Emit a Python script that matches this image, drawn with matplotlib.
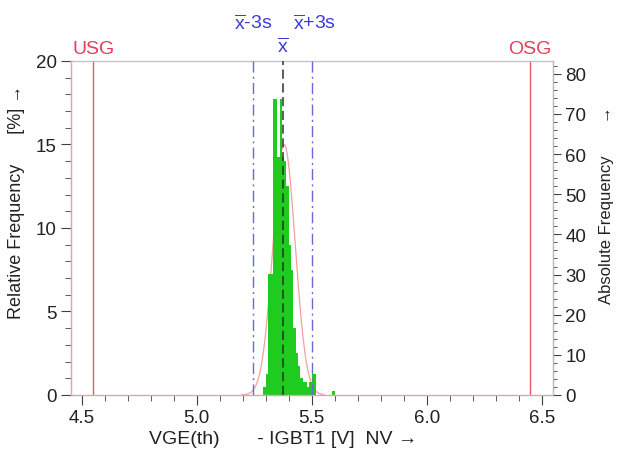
import matplotlib
matplotlib.use("Agg")
import matplotlib.pyplot as plt
import numpy as np
from matplotlib.ticker import MultipleLocator

plt.rcParams['font.family'] = ['Liberation Sans', 'DejaVu Sans']
plt.rcParams['mathtext.fontset'] = 'custom'
plt.rcParams['mathtext.rm'] = 'Liberation Sans'
plt.rcParams['mathtext.it'] = 'Liberation Sans'

# ---- data ----
bin_left = [5.29, 5.30, 5.31, 5.32, 5.33, 5.34, 5.35, 5.36, 5.37, 5.38, 5.39,
            5.40, 5.41, 5.42, 5.43, 5.44, 5.45, 5.46, 5.47, 5.48, 5.49, 5.50,
            5.51, 5.59]
rel_freq = [0.5, 1.25, 7.25, 7.25, 17.75, 17.75, 14.25, 17.75, 14.25, 14.0, 12.5,
            9.0, 7.5, 4.0, 2.5, 1.75, 1.0, 0.75, 0.75, 0.5, 0.75, 1.25,
            1.25, 0.25]
bin_width = 0.01
usg, osg = 4.55, 6.45
mean_x = 5.375
lower_3s = 5.246
upper_3s = 5.503
fit_mu, fit_sigma, fit_peak = 5.38, 0.048, 15.0
x_ticks = [4.5, 5.0, 5.5, 6.0, 6.5]
x_ticklabels = ['4.5', '5.0', '5.5', '6.0', '6.5']

fig = plt.figure(figsize=(6.17, 4.64), dpi=100)
ax = fig.add_axes([0.1146, 0.1466, 0.7812, 0.7198])
ax.set_xlim(4.452, 6.548)
ax.set_ylim(0, 20)

ax.bar(bin_left, rel_freq, width=bin_width, align='edge', color='#1ecb1e',
       edgecolor='none', zorder=2)

# fitted normal curve
xc = np.linspace(lower_3s - 0.05, upper_3s + 0.05, 300)
yc = fit_peak * np.exp(-0.5 * ((xc - fit_mu) / fit_sigma) ** 2)
ax.plot(xc, yc, color='#f4a0a0', lw=0.9, zorder=1.5)

# limits
for v in (usg, osg):
    ax.axvline(v, color='#e35a66', lw=1.0, zorder=1)
ax.axvline(mean_x, color='#1c3a1c', lw=1.1, ls=(0, (6, 3)), zorder=4)
for v in (lower_3s, upper_3s):
    ax.axvline(v, color='#6a6ad6', lw=1.0, ls=(0, (8, 3, 1.5, 3)), zorder=4)

tcol = '#404040'
ax.set_xticks(x_ticks)
ax.set_xticklabels(x_ticklabels)
ax.xaxis.set_minor_locator(MultipleLocator(0.1))
ax.yaxis.set_major_locator(MultipleLocator(5))
ax.yaxis.set_minor_locator(MultipleLocator(1))
ax.tick_params(axis='both', which='major', labelsize=13.5, length=7, color=tcol,
               labelcolor='#222222', pad=3)
ax.tick_params(axis='both', which='minor', length=4, color=tcol)

for s in ('left', 'bottom'):
    ax.spines[s].set_color('#dca4ac')
ax.spines['top'].set_color('#c4c4c4')
ax.spines['right'].set_color('#bbbbbb')
for s in ax.spines.values():
    s.set_linewidth(1.0)

ax2 = ax.twinx()
ax2.set_ylim(0, 83.2)
ax2.yaxis.set_major_locator(MultipleLocator(10))
ax2.yaxis.set_minor_locator(MultipleLocator(2))
ax2.tick_params(axis='y', which='major', labelsize=13.5, length=6, color=tcol,
                labelcolor='#222222', pad=3)
ax2.tick_params(axis='y', which='minor', length=3, color=tcol)
for s in ax2.spines.values():
    s.set_visible(False)
ax2.spines['right'].set_visible(True)
ax2.spines['right'].set_color('#bbbbbb')

ax.set_ylabel('Relative Frequency      [%] \u2192', fontsize=13, color='#222222')
ax.yaxis.set_label_coords(-0.094, 0.58)
ax2.set_ylabel('Absolute Frequency       \u2192', fontsize=12, color='#222222')
ax2.yaxis.set_label_coords(1.097, 0.57)
ax.set_xlabel('VGE(th)       - IGBT1 [V]  NV \u2192', fontsize=14, color='#222222')
ax.xaxis.set_label_coords(0.44, -0.105)

# labels above plot
ax.text(usg, 1.012, 'USG', transform=ax.get_xaxis_transform(), ha='center', va='bottom',
        color='#e0405a', fontsize=14)
ax.text(osg, 1.012, 'OSG', transform=ax.get_xaxis_transform(), ha='center', va='bottom',
        color='#e0405a', fontsize=14)
blue = '#3b3bd8'
ax.text(lower_3s, 1.085, r'$\overline{\mathrm{x}}$-3s', transform=ax.get_xaxis_transform(),
        ha='center', va='bottom', color=blue, fontsize=14)
ax.text(upper_3s + 0.01, 1.085, r'$\overline{\mathrm{x}}$+3s', transform=ax.get_xaxis_transform(),
        ha='center', va='bottom', color=blue, fontsize=14)
ax.text(mean_x, 1.015, r'$\overline{\mathrm{x}}$', transform=ax.get_xaxis_transform(),
        ha='center', va='bottom', color=blue, fontsize=14)

fig.savefig('out.png', dpi=100)
